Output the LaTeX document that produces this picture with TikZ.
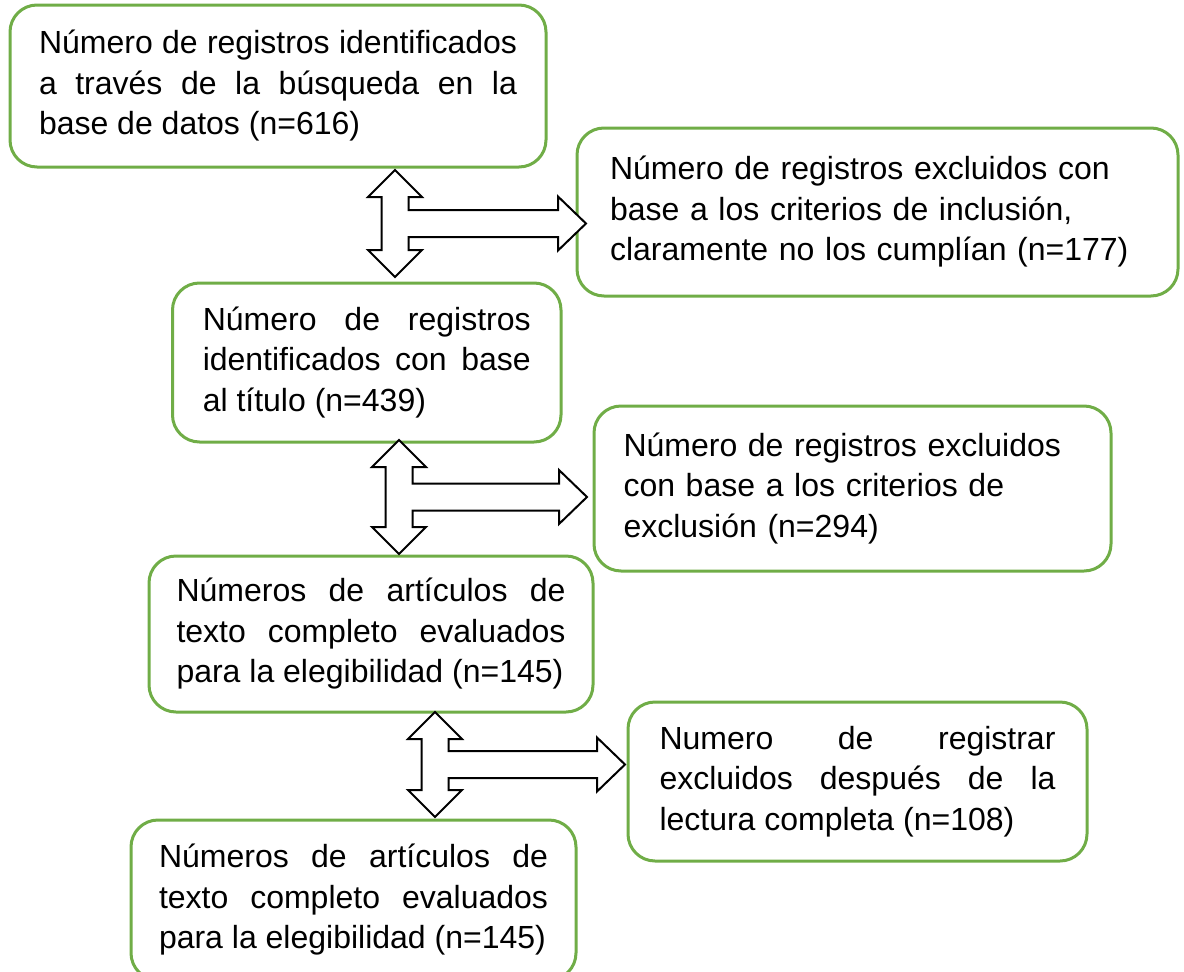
\documentclass[tikz,border=0pt]{standalone}
\usepackage{fontspec}
\setmainfont{Liberation Sans}
\usepackage{tikz}
\definecolor{boxgreen}{RGB}{112,173,71}
\tolerance=10000
\hyphenpenalty=10000

% T-shaped block arrow: centre x, top tip y, bottom tip y, right tip x
\newcommand{\tarrow}[4]{%
  \pgfmathsetmacro{\tmid}{(#2+#3)/2}
  \draw[blockarrow] (#1,#2) -- (#1+27,#2+27) -- (#1+13.5,#2+27)
    -- (#1+13.5,\tmid-13.5) -- (#4-28,\tmid-13.5) -- (#4-28,\tmid-27)
    -- (#4,\tmid) -- (#4-28,\tmid+27) -- (#4-28,\tmid+13.5)
    -- (#1+13.5,\tmid+13.5) -- (#1+13.5,#3-27) -- (#1+27,#3-27)
    -- (#1,#3) -- (#1-27,#3-27) -- (#1-13.5,#3-27)
    -- (#1-13.5,#2+27) -- (#1-27,#2+27) -- cycle;
}

\begin{document}
\begin{tikzpicture}[x=1pt, y=-1pt,
    box/.style={draw=boxgreen, line width=3pt, rounded corners=27pt, inner sep=0pt,
      font=\fontsize{32}{40.5}\selectfont},
    blockarrow/.style={draw=black, fill=white, line width=2pt}]
        \useasboundingbox (0,0) rectangle (1184,972);

        % Boxes on the left
        \node at (278,86) [box, minimum width=536, minimum height=162, text width=478, align=justify] (B1)
          {Número de registros identificados\linebreak a través de la búsqueda en la\linebreak base de datos (n=616)};
        \node at (366.75,362.5) [box, minimum width=388.5, minimum height=159, text width=328, align=justify] (B3)
          {Número de registros\linebreak identificados con base\linebreak al título (n=439)};
        \node at (371,634) [box, minimum width=444, minimum height=156, text width=389, align=justify] (B5)
          {Números de artículos de\linebreak texto completo evaluados\linebreak para la elegibilidad (n=145)};
        \node at (353.5,900) [box, minimum width=445, minimum height=160, text width=389, align=justify] (B7)
          {Números de artículos de\linebreak texto completo evaluados\linebreak para la elegibilidad (n=145)};

        % Boxes on the right
        \node at (877.5,212) [box, minimum width=601, minimum height=168, text width=535, align=left] (B2)
          {Número de registros excluidos con\\ base a los criterios de inclusión,\\ claramente no los cumplían (n=177)};
        \node at (852.5,488.5) [box, minimum width=517, minimum height=165, text width=458, align=left] (B4)
          {Número de registros excluidos\\ con base a los criterios de\\ exclusión (n=294)};
        \node at (857.5,781.5) [box, minimum width=459, minimum height=159, text width=396, align=justify] (B6)
          {Numero de registrar\linebreak excluidos después de la\linebreak lectura completa (n=108)};

        % Arrows
        \tarrow{395}{170}{277}{586}
        \tarrow{399}{440}{554}{587}
        \tarrow{435}{712}{817}{625}

    \end{tikzpicture}
\end{document}
